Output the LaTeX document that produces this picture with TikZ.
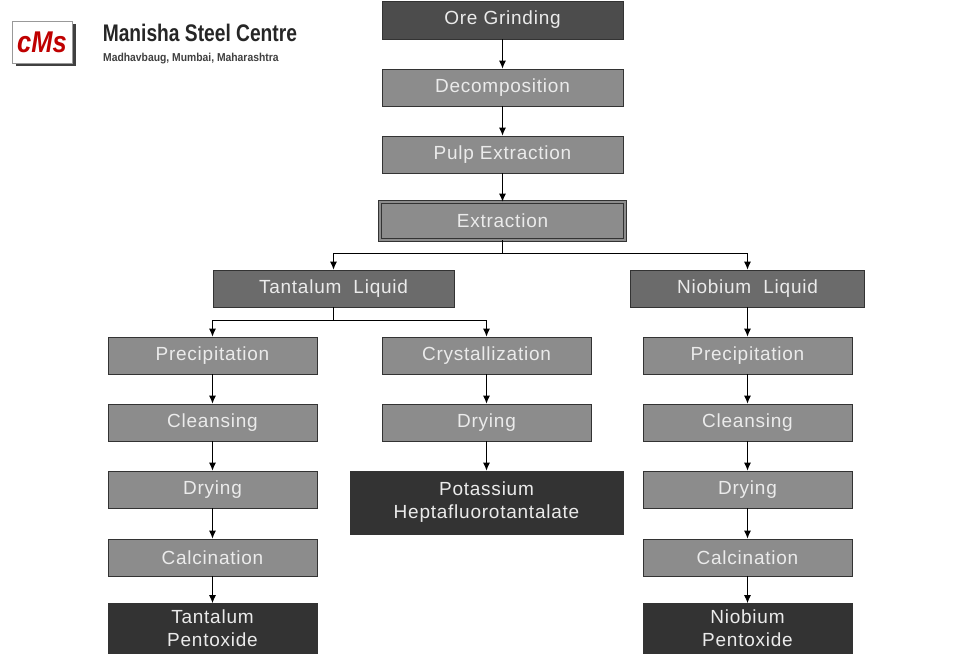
\documentclass[tikz,border=0pt]{standalone}
\usepackage{fontspec}
\usetikzlibrary{arrows.meta}
\setmainfont{Liberation Sans}
\newfontfamily\boxfont[LetterSpace=4]{Liberation Sans}
\begin{document}
\begin{tikzpicture}[x=1pt,y=-1pt,
 box/.style={draw=black!80,line width=0.8pt,text=white!92!black,font=\boxfont\fontsize{19}{23}\selectfont,inner sep=0pt,align=center},
 lt/.style={box,fill=black!45},
 md/.style={box,fill=black!58},
 dk/.style={box,fill=black!70},
 vd/.style={box,fill=black!80},
 arr/.style={-{Latex[length=8pt,width=7pt]},line width=0.9pt},
 ln/.style={line width=0.9pt}]
\useasboundingbox (0,0) rectangle (980,663);
\fill[white] (0,0) rectangle (980,663);
% logo
\fill[black!75] (16,24) rectangle (76,66);
\node[draw=black!40,fill=white,minimum width=60pt,minimum height=42pt,inner sep=0pt] (logo) at (42,42) {};
\node[text=red!75!black,font=\bfseries\itshape\fontsize{30}{30}\selectfont,xscale=0.85] (logot) at (42,42) {cMs};
\node[anchor=west,font=\bfseries\fontsize{24}{26}\selectfont,text=black!85,xscale=0.8] (t1) at (100,33) {Manisha Steel Centre};
\node[anchor=west,font=\bfseries\fontsize{11.5}{12}\selectfont,text=black!75,xscale=0.9] (t2) at (100,59) {Madhavbaug, Mumbai, Maharashtra};
% main column
\node[dk,minimum width=241pt,minimum height=38pt] (ore) at (502.5,20) {Ore Grinding};
\node[lt,minimum width=241pt,minimum height=37pt] (dec) at (502.5,87.5) {Decomposition};
\node[lt,minimum width=241pt,minimum height=37pt] (pulp) at (502.5,154.5) {Pulp Extraction};
\node[lt,minimum width=245pt,minimum height=38pt,double=black!45,double distance=2pt] (ext) at (502.5,221) {Extraction};
\node[md,minimum width=241pt,minimum height=37pt] (tl) at (333.5,288.5) {Tantalum\ \ Liquid};
\node[md,minimum width=234pt,minimum height=37pt] (nl) at (747.5,288.5) {Niobium\ \ Liquid};
% left
\node[lt,minimum width=209pt,minimum height=37pt] (lp) at (212.5,355.5) {Precipitation};
\node[lt,minimum width=209pt,minimum height=37pt] (lc) at (212.5,422.5) {Cleansing};
\node[lt,minimum width=209pt,minimum height=37pt] (ld) at (212.5,489.5) {Drying};
\node[lt,minimum width=209pt,minimum height=37pt] (lk) at (212.5,557.5) {Calcination};
\node[vd,minimum width=209pt,minimum height=50pt] (lt2) at (212.5,628.5) {Tantalum\\Pentoxide};
% middle
\node[lt,minimum width=209pt,minimum height=37pt] (mc) at (486.5,355.5) {Crystallization};
\node[lt,minimum width=209pt,minimum height=37pt] (md2) at (486.5,422.5) {Drying};
\node[vd,minimum width=273pt,minimum height=63pt] (mk) at (486.5,502.5) {Potassium\\Heptafluorotantalate};
% right
\node[lt,minimum width=209pt,minimum height=37pt] (rp) at (747.5,355.5) {Precipitation};
\node[lt,minimum width=209pt,minimum height=37pt] (rc) at (747.5,422.5) {Cleansing};
\node[lt,minimum width=209pt,minimum height=37pt] (rd) at (747.5,489.5) {Drying};
\node[lt,minimum width=209pt,minimum height=37pt] (rk) at (747.5,557.5) {Calcination};
\node[vd,minimum width=209pt,minimum height=50pt] (rn) at (747.5,628.5) {Niobium\\Pentoxide};
% connectors
\draw[arr] (ore) -- (dec);
\draw[arr] (dec) -- (pulp);
\draw[arr] (pulp) -- (ext);
\coordinate (b1) at (502.5,253);
\draw[ln] (ext.south) -- (b1);
\draw[arr] (b1) -| (tl.north);
\draw[arr] (b1) -| (nl.north);
\coordinate (b2) at (333.5,320);
\draw[ln] (tl.south) -- (b2);
\draw[arr] (b2) -| (lp.north);
\draw[arr] (b2) -| (mc.north);
\draw[arr] (lp) -- (lc);
\draw[arr] (lc) -- (ld);
\draw[arr] (ld) -- (lk);
\draw[arr] (lk) -- (lt2);
\draw[arr] (mc) -- (md2);
\draw[arr] (md2) -- (mk);
\draw[arr] (nl) -- (rp);
\draw[arr] (rp) -- (rc);
\draw[arr] (rc) -- (rd);
\draw[arr] (rd) -- (rk);
\draw[arr] (rk) -- (rn);
\end{tikzpicture}
\end{document}
